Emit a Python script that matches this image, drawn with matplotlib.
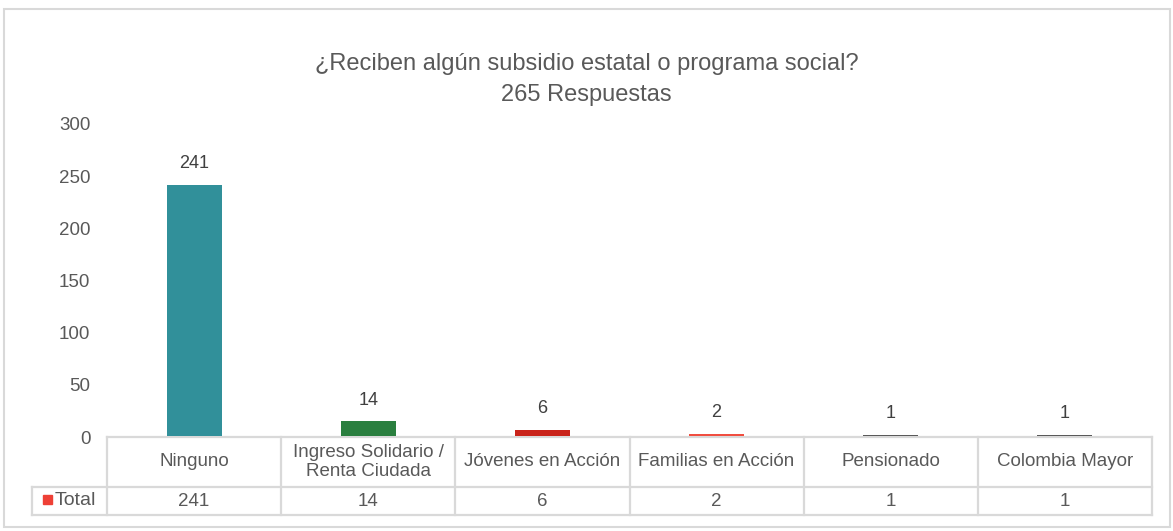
import matplotlib
matplotlib.use("Agg")
import matplotlib.pyplot as plt
from matplotlib.patches import Rectangle
from matplotlib.lines import Line2D

categories = ["Ninguno", "Ingreso Solidario /\nRenta Ciudada", "Jóvenes en Acción",
              "Familias en Acción", "Pensionado", "Colombia Mayor"]
values = [241, 14, 6, 2, 1, 1]
colors = ["#31909A", "#2A7F3F", "#C9231A", "#F04E40", "#5A5A5A", "#5A5A5A"]
series_name = "Total"
title_lines = ["¿Reciben algún subsidio estatal o programa social?", "265 Respuestas"]
yticks = [0, 50, 100, 150, 200, 250, 300]

plt.rcParams['font.family'] = ['Liberation Sans', 'DejaVu Sans']
TXT = "#595959"
GRID = "#D9D9D9"
FS = 13.5

W, H = 1173, 531
fig = plt.figure(figsize=(W / 100, H / 100), dpi=100)

def fx(px):
    return px / W

def fy(py):
    return 1 - py / H

# outer frame
fig.patches.append(Rectangle((fx(4), fy(527)), fx(1170) - fx(4), fy(9) - fy(527),
                             transform=fig.transFigure, fill=False, edgecolor=GRID, lw=1.5))

ax_l, ax_r, ax_t, ax_b = 107, 1152, 124, 437
ax = fig.add_axes([fx(ax_l), fy(ax_b), fx(ax_r) - fx(ax_l), fy(ax_t) - fy(ax_b)])
x = list(range(len(categories)))
ax.set_ylim(0, 300)
ax.set_xlim(-0.5, len(categories) - 0.5)
# shift bars up by the half-width of the table's top line so they sit on it
ax.bar(x, values, width=0.315, color=colors, linewidth=0, zorder=3,
       bottom=1.0)
ax.set_yticks(yticks)
ax.set_yticklabels([str(t) for t in yticks], fontsize=FS, color=TXT)
ax.tick_params(axis='y', length=0, pad=12)
ax.set_xticks([])
for s in ax.spines.values():
    s.set_visible(False)

for xi, v in zip(x, values):
    ax.annotate(str(v), (xi, v), xytext=(0, 16), textcoords='offset points',
                ha='center', va='center', fontsize=13, color="#404040")

for py, t in zip([64, 95], title_lines):
    fig.text(0.5, fy(py), t, ha='center', va='center', fontsize=17, color=TXT)

# table drawn in axis coords (x data, y axes fraction)
tr = ax.get_xaxis_transform()
axh = ax_b - ax_t
def yf(py):
    return (ax_b - py) / axh

y_top, y_mid, y_bot = yf(437), yf(487), yf(515)
x_leg = -0.5 - (ax_l - 32) * len(categories) / (ax_r - ax_l)
x_end = len(categories) - 0.5
lw = 1.6
lines = [
    ([-0.5, x_end], [y_top, y_top]),
    ([x_leg, x_end], [y_mid, y_mid]),
    ([x_leg, x_end], [y_bot, y_bot]),
    ([x_leg, x_leg], [y_mid, y_bot]),
]
for i in range(len(categories) + 1):
    lines.append(([i - 0.5, i - 0.5], [y_top, y_bot]))
for xs, ys in lines:
    ax.add_line(Line2D(xs, ys, transform=tr, color=GRID, lw=lw, clip_on=False,
                       solid_capstyle='projecting', zorder=2))

for xi, (c, v) in enumerate(zip(categories, values)):
    ax.text(xi, (y_top + y_mid) / 2, c, transform=tr, ha='center', va='center',
            fontsize=FS, color=TXT, linespacing=1.2, clip_on=False)
    ax.text(xi, (y_mid + y_bot) / 2, str(v), transform=tr, ha='center', va='center',
            fontsize=FS, color=TXT, clip_on=False)

# legend cell
fig.patches.append(Rectangle((fx(43), fy(504)), fx(9), fy(495) - fy(504),
                             transform=fig.transFigure, color="#EE4036"))
fig.text(fx(55), fy(500.5), series_name, ha='left', va='center', fontsize=14, color=TXT)

fig.savefig("out.png", dpi=100)
